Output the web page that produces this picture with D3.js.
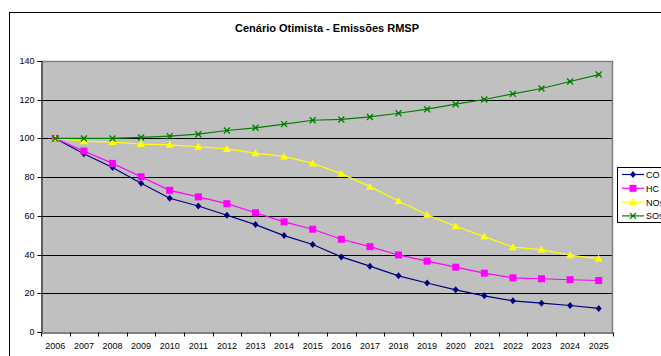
<!DOCTYPE html>
<html><head><meta charset="utf-8">
<script src="https://cdn.jsdelivr.net/npm/d3@7"></script>
<style>body{margin:0;background:#fff}svg{display:block}</style>
</head><body>
<script>
const years = ["2006","2007","2008","2009","2010","2011","2012","2013","2014","2015","2016","2017","2018","2019","2020","2021","2022","2023","2024","2025"];
const CO  = [100,92.1,85,76.8,69.1,65.1,60.3,55.5,49.8,45.2,38.8,34,29,25.3,21.8,18.7,16.1,14.9,13.7,12.2];
const HC  = [100,93.5,87.1,80.2,73.2,69.8,66.3,61.6,56.9,53.1,47.9,44.1,39.8,36.6,33.5,30.4,28,27.5,27,26.6];
const NOx = [100,98.6,98.1,97.1,96.7,95.7,94.6,92.4,90.7,87.1,81.8,75.1,67.7,60.6,54.6,49.3,43.8,42.6,39.7,37.8];
const SOx = [100,100,100,100.5,101.2,102.2,104.1,105.5,107.4,109.4,109.8,111.1,113,115.1,117.7,120.1,123,125.8,129.4,133];
const seriesNames = ["CO","HC","NOx","SOx"];
const legendLabels = ["CO","HC","NOs","SOs"];
const yTicks = [0,20,40,60,80,100,120,140];
const title = "Cenário Otimista - Emissões RMSP";

const W = 661, H = 356;
const svg = d3.select("body").append("svg").attr("width", W).attr("height", H);
const font = "'Liberation Sans', Arial, sans-serif";

// outer chart border
svg.append("rect").attr("x", 9.5).attr("y", 12.5).attr("width", 700).attr("height", 400)
  .attr("fill", "#fff").attr("stroke", "#000").attr("stroke-width", 1);

const L = 41, R = 613, T = 61, B = 332;
const x = d3.scaleBand().domain(years).range([L, R]);
const y = d3.scaleLinear().domain([0, 140]).range([B, T]);

svg.append("rect").attr("x", L).attr("y", T).attr("width", R - L).attr("height", B - T)
  .attr("fill", "#c0c0c0");

// gridlines
svg.append("g").selectAll("line").data(yTicks.filter(d => d > 0 && d < 140)).join("line")
  .attr("x1", L).attr("x2", R)
  .attr("y1", d => Math.round(y(d)) + 0.5).attr("y2", d => Math.round(y(d)) + 0.5)
  .attr("stroke", "#000").attr("stroke-width", 1);

// plot border top/right
svg.append("path").attr("d", `M${L},${T + 0.5}H${R - 0.5}V${B}`)
  .attr("fill", "none").attr("stroke", "#808080").attr("stroke-width", 1.5);

// y axis
const yAxis = d3.axisLeft(y).tickValues(yTicks).tickSize(4).tickPadding(3);
const gy = svg.append("g").attr("transform", `translate(${L + 0.5},0)`).call(yAxis);
gy.select(".domain").attr("stroke", "#000");
gy.selectAll(".tick line").attr("stroke", "#000");
gy.selectAll("text").attr("font-family", font).attr("font-size", 9).attr("fill", "#000");
gy.selectAll(".tick").attr("transform", d => `translate(0,${Math.round(y(d)) + 0.5})`);

// x axis
const xAxis = d3.axisBottom(x).tickSize(0).tickPadding(10);
const gx = svg.append("g").attr("transform", `translate(0,${B + 0.5})`).call(xAxis);
gx.select(".domain").attr("stroke", "#000");
gx.selectAll("text").attr("font-family", font).attr("font-size", 9).attr("fill", "#000");
// category boundary ticks
const bounds = years.map(d => x(d)).concat([R]);
gx.append("g").selectAll("line").data(bounds).join("line")
  .attr("x1", d => Math.round(d) + 0.5).attr("x2", d => Math.round(d) + 0.5)
  .attr("y1", 0).attr("y2", 4).attr("stroke", "#000");

// title
svg.append("text").attr("x", 327).attr("y", 32).attr("text-anchor", "middle")
  .attr("font-family", font).attr("font-size", 11).attr("font-weight", "bold").text(title);

const colors = {CO: "#000080", HC: "#ff00ff", NOx: "#ffff00", SOx: "#008000"};
const dataMap = {CO, HC, NOx, SOx};
const cx = d => x(d) + x.bandwidth() / 2;

function marker(g, name, px, py) {
  const c = colors[name];
  if (name === "CO") {
    g.append("path").attr("d", `M${px},${py - 3.5}L${px + 3},${py}L${px},${py + 3.5}L${px - 3},${py}Z`).attr("fill", c);
  } else if (name === "HC") {
    g.append("rect").attr("x", px - 3.5).attr("y", py - 3.5).attr("width", 7).attr("height", 7).attr("fill", c);
  } else if (name === "NOx") {
    g.append("path").attr("d", `M${px},${py - 4}L${px + 4},${py + 3}L${px - 4},${py + 3}Z`).attr("fill", c);
  } else {
    g.append("path").attr("d", `M${px - 3},${py - 3}L${px + 3},${py + 3}M${px + 3},${py - 3}L${px - 3},${py + 3}M${px - 2},${py}H${px + 2}`)
      .attr("stroke", c).attr("stroke-width", 1.3).attr("fill", "none");
  }
}

const line = d3.line().x((d, i) => cx(years[i])).y(d => y(d));
seriesNames.forEach(name => {
  const g = svg.append("g");
  g.append("path").datum(dataMap[name]).attr("d", line)
    .attr("fill", "none").attr("stroke", colors[name]).attr("stroke-width", 1.2);
  dataMap[name].forEach((v, i) => marker(g, name, cx(years[i]), y(v)));
});

// legend
const lg = svg.append("g");
lg.append("rect").attr("x", 617.5).attr("y", 167.5).attr("width", 60).attr("height", 55)
  .attr("fill", "#fff").attr("stroke", "#000");
seriesNames.forEach((name, i) => {
  const ly = 174.5 + i * 13.8;
  lg.append("line").attr("x1", 622).attr("x2", 644).attr("y1", ly).attr("y2", ly)
    .attr("stroke", colors[name]).attr("stroke-width", 1.2);
  marker(lg, name, 633, ly);
  lg.append("text").attr("x", 646).attr("y", ly + 3.5).attr("font-family", font)
    .attr("font-size", 9).text(legendLabels[i]);
});
</script>
</body></html>
